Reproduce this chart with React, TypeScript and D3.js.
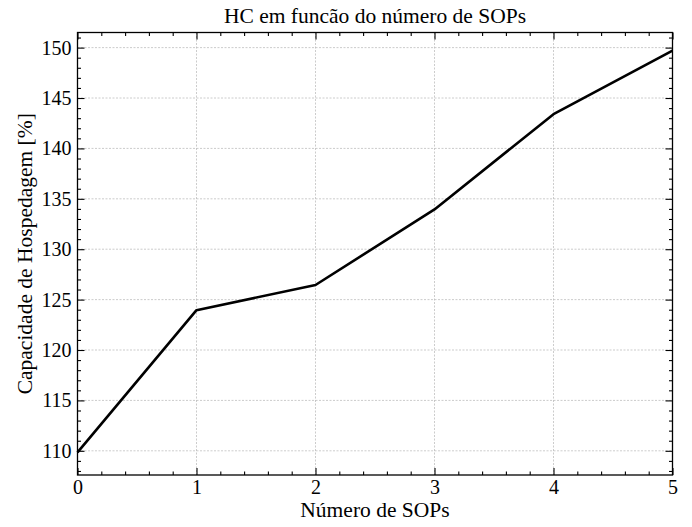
import { useRef, useEffect } from 'react';
import * as d3 from 'd3';

const W = 692;
const H = 527;
const MARGIN = { top: 32.5, right: 19.5, bottom: 52, left: 77.5 };

const sops = [0, 1, 2, 3, 4, 5];
const capacidade = [109.85, 123.95, 126.45, 133.95, 143.4, 149.7];
const xTicks = [0, 1, 2, 3, 4, 5];
const yTicks = [110, 115, 120, 125, 130, 135, 140, 145, 150];
const xDomain: [number, number] = [0, 5];
const yDomain: [number, number] = [107.6, 151.5];

const FONT = '"Liberation Serif", "Times New Roman", serif';

export default function App() {
  const svgRef = useRef<SVGSVGElement>(null);

  useEffect(() => {
    document.body.style.margin = '0';
    const svg = d3.select(svgRef.current);
    svg.selectAll('*').remove();

    const w = W - MARGIN.left - MARGIN.right;
    const h = H - MARGIN.top - MARGIN.bottom;
    const g = svg.append('g').attr('transform', `translate(${MARGIN.left},${MARGIN.top})`);

    const x = d3.scaleLinear().domain(xDomain).range([0, w]);
    const y = d3.scaleLinear().domain(yDomain).range([h, 0]);

    // grid
    const grid = g.append('g').attr('stroke', '#aaa').attr('stroke-width', 0.6)
      .attr('stroke-dasharray', '2,1.5');
    xTicks.forEach(t => {
      grid.append('line').attr('x1', x(t)).attr('x2', x(t)).attr('y1', 0).attr('y2', h);
    });
    yTicks.forEach(t => {
      grid.append('line').attr('x1', 0).attr('x2', w).attr('y1', y(t)).attr('y2', y(t));
    });

    // line
    const line = d3.line<number>().x((_, i) => x(sops[i])).y(d => y(d));
    g.append('path').datum(capacidade).attr('d', line)
      .attr('fill', 'none').attr('stroke', '#000').attr('stroke-width', 2.6)
      .attr('stroke-linejoin', 'round');

    // ticks, inward on all four sides
    const xMinor = d3.range(0, 5.001, 0.2).filter(v => Math.abs(v - Math.round(v)) > 1e-6);
    const yMinor = d3.range(108, 152, 1).filter(v => v % 5 !== 0);

    const styleAxis = (sel: any) => {
      sel.select('.domain').remove();
      sel.selectAll('line').attr('stroke', '#000').attr('stroke-width', 1.1);
      sel.selectAll('text').attr('font-family', FONT).attr('font-size', 20).attr('fill', '#000');
    };

    const bottom = g.append('g').attr('transform', `translate(0,${h})`);
    bottom.append('g').call(d3.axisBottom(x).tickValues(xTicks).tickSize(-7).tickPadding(5)
      .tickFormat(d3.format('d'))).call(styleAxis);
    bottom.append('g').call(d3.axisBottom(x).tickValues(xMinor).tickSize(-3.5).tickFormat(() => ''))
      .call(styleAxis);

    g.append('g').call(d3.axisTop(x).tickValues(xTicks).tickSize(-7).tickFormat(() => '')).call(styleAxis);
    g.append('g').call(d3.axisTop(x).tickValues(xMinor).tickSize(-3.5).tickFormat(() => '')).call(styleAxis);

    g.append('g').call(d3.axisLeft(y).tickValues(yTicks).tickSize(-7).tickPadding(6)
      .tickFormat(d3.format('d'))).call(styleAxis);
    g.append('g').call(d3.axisLeft(y).tickValues(yMinor).tickSize(-3.5).tickFormat(() => ''))
      .call(styleAxis);

    const right = g.append('g').attr('transform', `translate(${w},0)`);
    right.append('g').call(d3.axisRight(y).tickValues(yTicks).tickSize(-7).tickFormat(() => '')).call(styleAxis);
    right.append('g').call(d3.axisRight(y).tickValues(yMinor).tickSize(-3.5).tickFormat(() => ''))
      .call(styleAxis);

    // frame
    g.append('rect').attr('width', w).attr('height', h)
      .attr('fill', 'none').attr('stroke', '#000').attr('stroke-width', 1.3);

    // labels
    g.append('text').attr('x', w / 2).attr('y', -9.5)
      .attr('text-anchor', 'middle').attr('font-family', FONT).attr('font-size', 21.5)
      .text('HC em funcão do número de SOPs');
    g.append('text').attr('x', w / 2).attr('y', h + 41.5)
      .attr('text-anchor', 'middle').attr('font-family', FONT).attr('font-size', 21.5)
      .text('Número de SOPs');
    g.append('text').attr('transform', 'rotate(-90)')
      .attr('x', -h / 2).attr('y', -45.5)
      .attr('text-anchor', 'middle').attr('font-family', FONT).attr('font-size', 21.5)
      .text('Capacidade de Hospedagem [%]');
  }, []);

  return <svg ref={svgRef} width={W} height={H} style={{ display: 'block', background: '#fff' }} />;
}
